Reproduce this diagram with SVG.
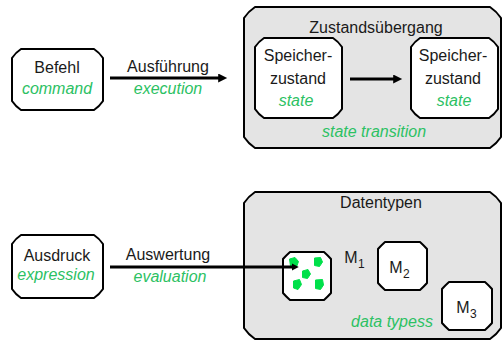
<svg xmlns="http://www.w3.org/2000/svg" width="503" height="343" viewBox="0 0 503 343">
  <style>
    .frame { fill: #e4e4e4; stroke: #000; stroke-width: 2; stroke-linejoin: round; }
    .box { fill: #fff; stroke: #000; stroke-width: 2; stroke-linejoin: round; }
    .t { font-family: "Liberation Sans", Arial, sans-serif; font-size: 16px; fill: #1a1a1a; text-anchor: middle; }
    .g { font-family: "Liberation Sans", Arial, sans-serif; font-size: 16px; font-style: italic; fill: #2cc163; text-anchor: middle; }
    .sub { font-size: 12px; text-anchor: start; }
    .arrow { stroke: #000; stroke-width: 3; fill: none; }
    .dot { fill: #00e04a; stroke: #00e04a; stroke-width: 1; stroke-linejoin: round; }
  </style>
  <defs>
    <marker id="head" viewBox="0 0 10 10" refX="2" refY="5" markerWidth="3.4" markerHeight="3" orient="auto" markerUnits="strokeWidth">
      <path d="M0,0 L10,5 L0,10 Z" fill="#000"/>
    </marker>
    <marker id="headSmall" viewBox="0 0 10 10" refX="2" refY="5" markerWidth="2.4" markerHeight="2.4" orient="auto" markerUnits="strokeWidth">
      <path d="M0,0 L10,5 L0,10 Z" fill="#000"/>
    </marker>
  </defs>

  <!-- upper row: command execution -->
  <g id="befehl">
    <path class="box" d="M21,49 H94 Q99.4,52.6 103,58 V101 Q99.4,106.4 94,110 H21 Q15.6,106.4 12,101 V58 Q15.6,52.6 21,49 Z"/>
    <text class="t" x="57" y="73">Befehl</text>
    <text class="g" x="57" y="94">command</text>
  </g>

  <g id="zustandsuebergang">
    <path class="frame" d="M255,7 H490 Q496.6,11.4 501,18 V137 Q496.6,143.6 490,148 H255 Q248.4,143.6 244,137 V18 Q248.4,11.4 255,7 Z"/>
    <text class="t" x="376" y="33">Zustandsübergang</text>
    <text class="g" x="374" y="137">state transition</text>
  </g>

  <g id="speicher1">
    <path class="box" d="M264,38 H333 Q338.4,41.6 342,47 V109 Q338.4,114.4 333,118 H264 Q258.6,114.4 255,109 V47 Q258.6,41.6 264,38 Z"/>
    <text class="t" x="298" y="61">Speicher-</text>
    <text class="t" x="298" y="84">zustand</text>
    <text class="g" x="296" y="106">state</text>
  </g>

  <g id="speicher2">
    <path class="box" d="M420,38 H489 Q494.4,41.6 498,47 V109 Q494.4,114.4 489,118 H420 Q414.6,114.4 411,109 V47 Q414.6,41.6 420,38 Z"/>
    <text class="t" x="453" y="61">Speicher-</text>
    <text class="t" x="453" y="84">zustand</text>
    <text class="g" x="454" y="106">state</text>
  </g>

  <!-- lower row: expression evaluation -->
  <g id="ausdruck">
    <path class="box" d="M21,235 H94 Q99.4,238.6 103,244 V289 Q99.4,294.4 94,298 H21 Q15.6,294.4 12,289 V244 Q15.6,238.6 21,235 Z"/>
    <text class="t" x="57" y="261">Ausdruck</text>
    <text class="g" x="56" y="280">expression</text>
  </g>

  <g id="datentypen">
    <path class="frame" d="M255,192 H490 Q496.6,196.4 501,203 V328 Q496.6,334.6 490,339 H255 Q248.4,334.6 244,328 V203 Q248.4,196.4 255,192 Z"/>
    <text class="t" x="381" y="208">Datentypen</text>
    <text class="g" x="392" y="327">data typess</text>
  </g>

  <g id="m1">
    <path class="box" d="M290,252 H324 Q328.2,255.8 331,259 V293 Q328.2,296.2 324,300 H290 Q285.8,296.2 283,293 V259 Q285.8,255.8 290,252 Z"/>
    <path class="dot" d="M289.5,259 L295,257.5 L298.5,261.5 L296.5,267 L290.5,266 Z"/>
    <path class="dot" d="M314.5,258 L320.5,257.5 L322.5,262 L319.5,266.5 L314.5,265.5 Z"/>
    <path class="dot" d="M302.5,271 L308,269.5 L310.5,274 L307.5,278.5 L302.5,277.5 Z"/>
    <path class="dot" d="M293.5,281 L299.5,279.5 L301.5,284.5 L298,289.5 L293.5,288 Z"/>
    <path class="dot" d="M315.5,280 L322.5,279.5 L323.5,285 L320.5,289.5 L315.5,288.5 Z"/>
    <text class="t" x="351" y="263">M</text>
    <text class="t sub" x="358" y="268">1</text>
  </g>

  <g id="m2">
    <path class="box" d="M385,242 H420 Q424.2,245.8 427,249 V283 Q424.2,286.2 420,290 H385 Q380.8,286.2 378,283 V249 Q380.8,245.8 385,242 Z"/>
    <text class="t" x="396" y="273">M</text>
    <text class="t sub" x="403" y="278">2</text>
  </g>

  <g id="m3">
    <path class="box" d="M449,282 H485 Q489.2,285.8 492,289 V323 Q489.2,326.2 485,330 H449 Q444.8,326.2 442,323 V289 Q444.8,285.8 449,282 Z"/>
    <text class="t" x="463" y="313">M</text>
    <text class="t sub" x="470" y="318">3</text>
  </g>

  <!-- connectors -->
  <g id="connectors">
    <line class="arrow" x1="110" y1="78" x2="220" y2="78" marker-end="url(#head)"/>
    <text class="t" x="168" y="72">Ausführung</text>
    <text class="g" x="168" y="94">execution</text>

    <line class="arrow" x1="350" y1="79" x2="395" y2="79" marker-end="url(#head)"/>

    <line class="arrow" x1="110" y1="267" x2="293" y2="267" marker-end="url(#headSmall)"/>
    <text class="t" x="168" y="260">Auswertung</text>
    <text class="g" x="170" y="282">evaluation</text>
  </g>
</svg>
